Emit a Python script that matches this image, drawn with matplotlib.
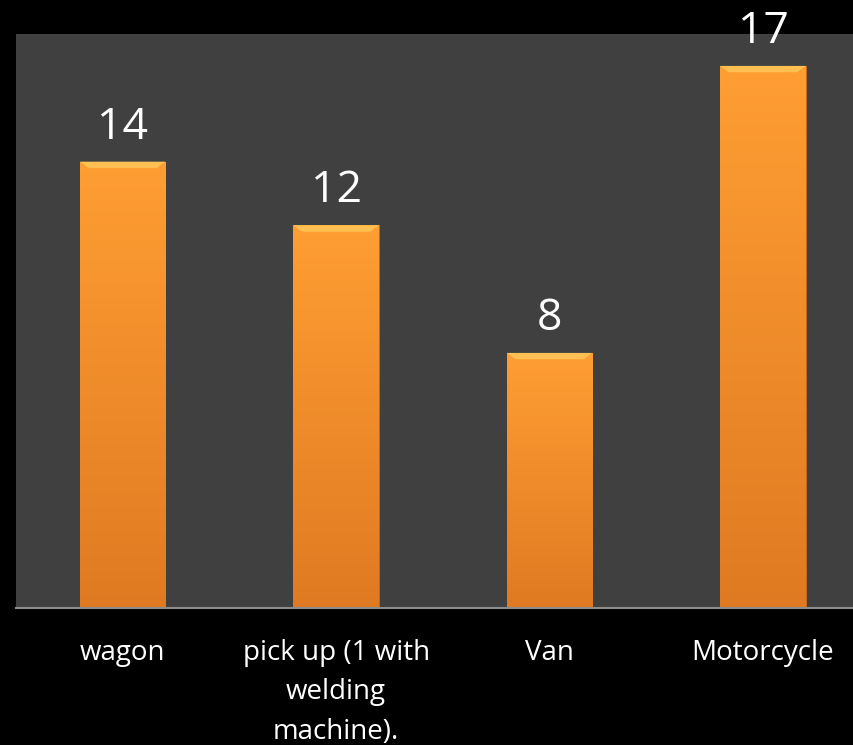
import matplotlib
matplotlib.use('Agg')
import matplotlib.pyplot as plt
import numpy as np

categories = ['wagon', 'pick up (1 with\nwelding\nmachine).', 'Van', 'Motorcycle']
values = [14, 12, 8, 17]

plt.rcParams['font.family'] = ['Open Sans', 'DejaVu Sans']

fig = plt.figure(figsize=(8.54, 7.45), dpi=100, facecolor='black')
ax = fig.add_axes([16 / 854, 1 - 608 / 745, (869.7 - 16) / 854, (608 - 34) / 745])
ax.set_facecolor('#404040')

x = np.arange(len(categories))
bars = ax.bar(x, values, width=0.4, color='#F7902A', edgecolor='#C86A18', linewidth=0.6, zorder=2)

# vertical gradient inside each bar
grad = np.linspace(0, 1, 256).reshape(-1, 1)
cmap = matplotlib.colors.LinearSegmentedColormap.from_list('o', ['#E07A22', '#FF9E33'])
for b in bars:
    x0, w, h = b.get_x(), b.get_width(), b.get_height()
    im = ax.imshow(grad, cmap=cmap, origin='lower', aspect='auto',
                   extent=[x0, x0 + w, 0, h], zorder=2.5)
    im.set_clip_path(b)
    # bevel highlight on top
    ax.fill([x0, x0 + w, x0 + w * 0.9, x0 + w * 0.1], [h, h, h - 0.2, h - 0.2],
            color='#FFD060', alpha=0.7, lw=0, zorder=3)
    ax.text(x0 + w / 2, h + 0.72, str(int(h)), ha='center', va='baseline',
            color='white', fontsize=32, zorder=4)

ax.set_xlim(-0.5, len(categories) - 0.5)
ax.set_ylim(0, 18)
ax.set_yticks([])
ax.set_xticks(x)
ax.set_xticklabels(categories, color='white', fontsize=20, linespacing=1.55)
ax.tick_params(axis='x', length=0, pad=22)
for s in ['top', 'right', 'left']:
    ax.spines[s].set_visible(False)
ax.spines['bottom'].set_color('#8C8C8C')
ax.spines['bottom'].set_linewidth(1.5)

fig.savefig('out.png', dpi=100, facecolor='black')
